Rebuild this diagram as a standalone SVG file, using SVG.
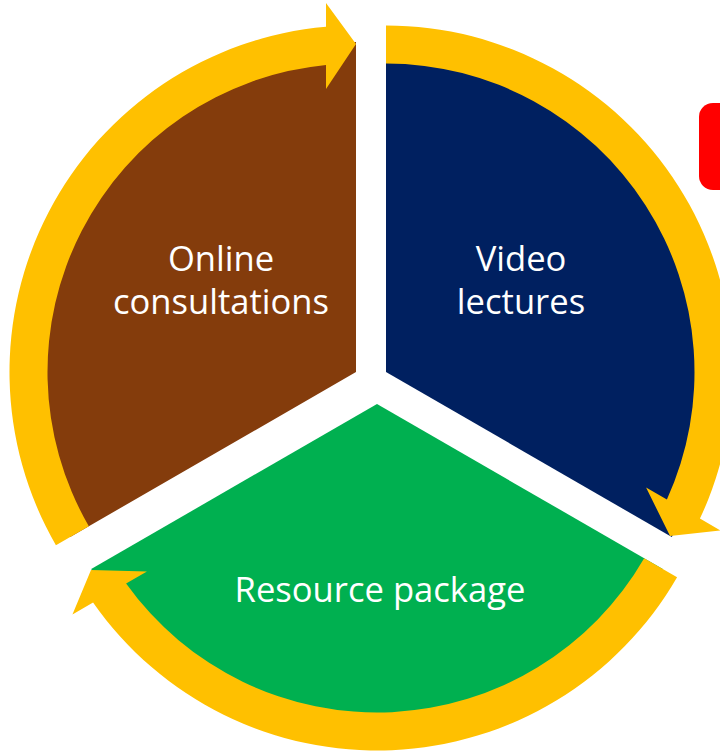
<svg xmlns="http://www.w3.org/2000/svg" width="720" height="754" viewBox="0 0 720 754">
  <style>
    .lbl { font-family: "Open Sans", "Liberation Sans", sans-serif; font-size: 34.6px; fill: #FFFFFF; text-anchor: middle; }
    .arrow { fill: #FFC000; stroke: none; }
  </style>
  <rect width="720" height="754" fill="#FFFFFF"/>
  <rect id="red-mark" x="699" y="103" width="40" height="87" rx="14" ry="14" fill="#FF0000"/>
  <g id="node-online">
    <path d="M 356 372 L 70.21 537 A 330 330 0 0 1 356 42 Z" fill="#843C0C"/>
    <text class="lbl" x="221" y="271">Online</text>
    <text class="lbl" x="221" y="314">consultations</text>
  </g>
  <g id="node-video">
    <path d="M 386 372 L 386 42 A 330 330 0 0 1 671.79 537 Z" fill="#002060"/>
    <text class="lbl" x="521" y="271">Video</text>
    <text class="lbl" x="521" y="314">lectures</text>
  </g>
  <g id="node-resource">
    <path d="M 377 404 L 662.79 569 A 330 330 0 0 1 91.21 569 Z" fill="#00B050"/>
    <text class="lbl" x="380" y="602">Resource package</text>
  </g>
  <g id="connectors">
    <path class="arrow" d="M 55.92 545.25 A 346.5 346.5 0 0 1 326 26.8 L 326 3 L 356 44 L 326 89 L 326 64.96 A 308.5 308.5 0 0 0 88.83 526.25 Z"/>
    <path class="arrow" d="M 386 25.5 A 346.5 346.5 0 0 1 699.94 518.62 L 720.55 530.52 L 670.05 536 L 646.08 487.52 L 666.9 499.54 A 308.5 308.5 0 0 0 386 63.5 Z"/>
    <path class="arrow" d="M 677.08 577.25 A 346.5 346.5 0 0 1 93.06 602.58 L 72.45 614.48 L 91 570 L 146.92 571.48 L 126.1 583.5 A 308.5 308.5 0 0 0 644.17 558.25 Z"/>
  </g>
</svg>
